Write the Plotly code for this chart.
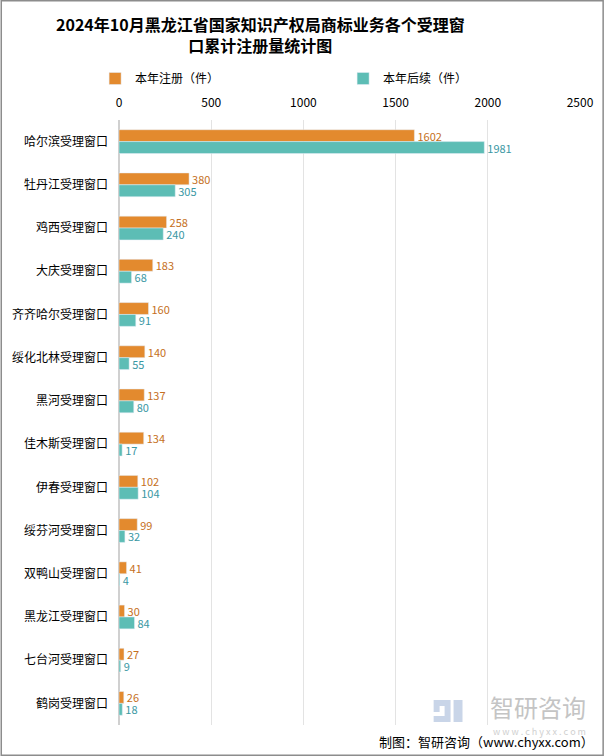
import plotly.graph_objects as go

categories = ["哈尔滨受理窗口", "牡丹江受理窗口", "鸡西受理窗口", "大庆受理窗口", "齐齐哈尔受理窗口",
              "绥化北林受理窗口", "黑河受理窗口", "佳木斯受理窗口", "伊春受理窗口", "绥芬河受理窗口",
              "双鸭山受理窗口", "黑龙江受理窗口", "七台河受理窗口", "鹤岗受理窗口"]
reg = [1602, 380, 258, 183, 160, 140, 137, 134, 102, 99, 41, 30, 27, 26]
follow = [1981, 305, 240, 68, 91, 55, 80, 17, 104, 32, 4, 84, 9, 18]
x_ticks = [0, 500, 1000, 1500, 2000, 2500]

FONT = "Noto Sans CJK SC"
L, R, T, B = 119, 24, 120, 31
PW, PH = 606 - L - R, 756 - T - B


def px(x):
    return (x - L) / PW


def py(y):
    return (756 - B - y) / PH


fig = go.Figure()
fig.add_trace(go.Bar(y=categories, x=reg, orientation="h", name="本年注册（件）",
                     marker=dict(color="#E38A2E"), text=reg, textposition="outside",
                     constraintext="none", textangle=0,
                     textfont=dict(color="#C56F22", size=11, family=FONT), cliponaxis=False))
fig.add_trace(go.Bar(y=categories, x=follow, orientation="h", name="本年后续（件）",
                     marker=dict(color="#5DBDB5"), text=follow, textposition="outside",
                     constraintext="none", textangle=0,
                     textfont=dict(color="#3A97A3", size=11, family=FONT), cliponaxis=False))

icon_col = "#C9D5E8"
shapes = [dict(type="rect", xref="paper", yref="paper", x0=px(0.75), x1=px(605.25),
               y0=py(755.25), y1=py(0.75), line=dict(color="#8C8C8C", width=1.5))]
for (x0, y0, x1, y1) in [(435, 700, 452, 706), (446, 706, 452, 716), (435, 716, 452, 722),
                         (435, 706, 441, 712), (455, 700, 464, 722)]:
    shapes.append(dict(type="rect", xref="paper", yref="paper", x0=px(x0), x1=px(x1),
                       y0=py(y1), y1=py(y0), line=dict(width=0), fillcolor=icon_col,
                       layer="below"))

fig.update_layout(
    width=606, height=756,
    paper_bgcolor="white", plot_bgcolor="white",
    font=dict(family=FONT, size=12, color="#000"),
    barmode="group", bargap=0.45, bargroupgap=0,
    margin=dict(l=L, r=R, t=T, b=B),
    legend=dict(orientation="h", x=px(95), y=py(64), yanchor="top", xanchor="left",
                font=dict(size=12), entrywidth=203, entrywidthmode="pixels",
                traceorder="normal"),
    xaxis=dict(side="top", range=[0, 2500], tickvals=x_ticks, showgrid=True,
               gridcolor="#E3E3E3", gridwidth=1, zeroline=True, zerolinecolor="#D0D0D0",
               showline=False, ticks="", tickfont=dict(size=12), ticklabelstandoff=10),
    yaxis=dict(autorange="reversed", ticks="", showline=False,
               tickfont=dict(size=12), ticklabelstandoff=10),
    shapes=shapes,
    annotations=[
        dict(text="<b>2024年10月黑龙江省国家知识产权局商标业务各个受理窗<br>口累计注册量统计图</b>",
             xref="paper", yref="paper", x=px(261), y=py(34), xanchor="center",
             yanchor="middle", showarrow=False,
             font=dict(size=16, family=FONT, color="#000")),
        dict(text="制图：智研咨询（www.chyxx.com）", xref="paper", yref="paper",
             x=px(598), y=py(741), xanchor="right", yanchor="middle", showarrow=False,
             font=dict(size=13, color="#000")),
        dict(text="智研咨询", xref="paper", yref="paper", x=px(590), y=py(706),
             xanchor="right", yanchor="middle", showarrow=False,
             font=dict(size=24, color="#C4C4C4")),
        dict(text="w w w . c h y x x . c o m", xref="paper", yref="paper", x=px(590), y=py(731),
             xanchor="right", yanchor="middle", showarrow=False,
             font=dict(size=9, color="#D0D0D0")),
    ],
)
fig.write_html("out.html", config={"displayModeBar": False},
               post_script="document.body.style.margin='0';document.body.style.overflow='hidden';")
